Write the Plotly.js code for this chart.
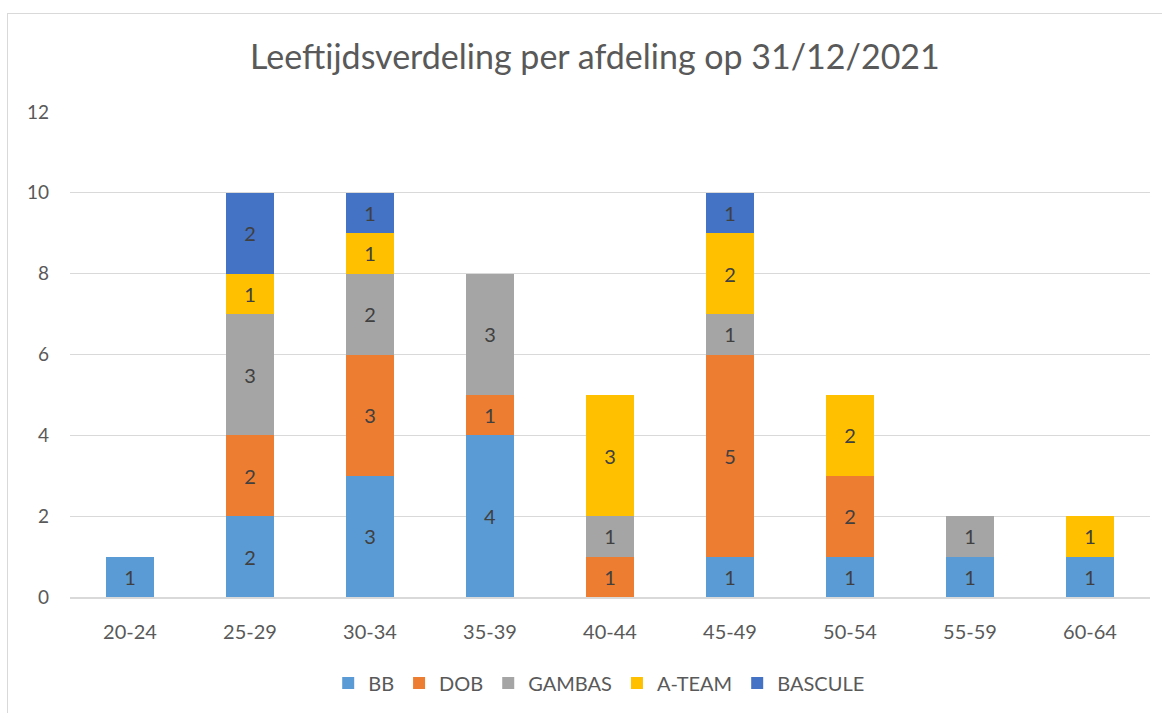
<!DOCTYPE html>
<html><head><meta charset="utf-8">
<script src="https://cdn.plot.ly/plotly-3.0.1.min.js"></script>
<style>
html,body{margin:0;padding:0;background:#fff;}
#frame{position:absolute;left:7px;top:13px;width:1160px;height:710px;border:1px solid #D9D9D9;box-sizing:border-box;}
#chart{position:absolute;left:0;top:0;width:1162px;height:713px;}
</style>
</head><body>
<div id="frame"></div>
<div id="chart"></div>
<script>
const categories = ["20-24","25-29","30-34","35-39","40-44","45-49","50-54","55-59","60-64"];
const seriesNames = ["BB","DOB","GAMBAS","A-TEAM","BASCULE"];
const BB      = [1,2,3,4,0,1,1,1,1];
const DOB     = [0,2,3,1,1,5,2,0,0];
const GAMBAS  = [0,3,2,3,1,1,0,1,0];
const ATEAM   = [0,1,1,0,3,2,2,0,1];
const BASCULE = [0,2,1,0,0,1,0,0,0];
const yTicks = [0,2,4,6,8,10,12];

const seriesValues = [BB, DOB, GAMBAS, ATEAM, BASCULE];
const colors = ["#5B9BD5","#ED7D31","#A5A5A5","#FFC000","#4472C4"];

const traces = seriesValues.map((vals,i)=>({
  type:"bar",
  name:seriesNames[i],
  x:categories,
  y:vals,
  text:vals.map(v=> v>0 ? String(v) : ""),
  textposition:"inside",
  insidetextanchor:"middle",
  textangle:0,
  textfont:{color:"#404040",size:20,family:"Lato, sans-serif"},
  marker:{color:colors[i],line:{width:0}},
  hoverinfo:"skip",
  cliponaxis:false
}));

const layout = {
  width:1162, height:713,
  barmode:"stack",
  bargap:0.6,
  uniformtext:{mode:false},
  paper_bgcolor:"rgba(0,0,0,0)",
  plot_bgcolor:"rgba(0,0,0,0)",
  margin:{l:70,r:12,t:112,b:115},
  font:{family:"Lato, sans-serif",color:"#595959",size:19},
  title:{text:"Leeftijdsverdeling per afdeling op 31/12/2021",
         font:{size:34,color:"#595959",family:"Lato, sans-serif"},
         x:0.512, xanchor:"center", y:0.92, yanchor:"middle"},
  xaxis:{type:"category",tickfont:{size:20,color:"#595959"},showgrid:false,
         showline:true,linecolor:"#D9D9D9",linewidth:1.5,ticks:"",ticklen:0,
         ticklabelstandoff:16},
  yaxis:{range:[0,12],tickvals:yTicks,ticktext:yTicks.map(String),
         tickfont:{size:19,color:"#595959"},gridcolor:"#D9D9D9",gridwidth:1.3,
         zeroline:false,showline:false,ticks:"",ticklabelstandoff:20},
  legend:{orientation:"h",x:0.49,xanchor:"center",y:-0.175,yanchor:"middle",
          font:{size:20,color:"#595959"},traceorder:"normal",itemwidth:30},
  showlegend:true
};
Plotly.newPlot("chart",traces,layout,{displayModeBar:false,staticPlot:true});
</script>
</body></html>
